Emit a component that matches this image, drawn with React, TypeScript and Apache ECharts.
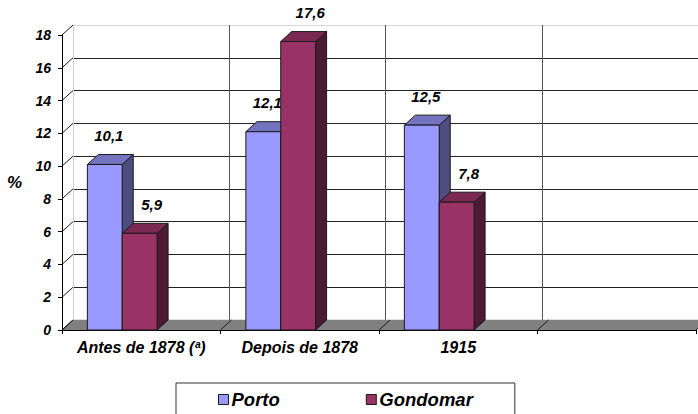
import React, { useEffect, useRef } from "react";
import * as echarts from "echarts";

const categories = ["Antes de 1878 (ª)", "Depois de 1878", "1915", ""];
const portoValues = [10.1, 12.1, 12.5];
const gondomarValues = [5.9, 17.6, 7.8];
const seriesNames = ["Porto", "Gondomar"];
const yTicks = [0, 2, 4, 6, 8, 10, 12, 14, 16, 18];

const FONT = "'Liberation Sans', Arial, sans-serif";
const DX = 11;
const DY = 10;

const palettes = [
  { front: "#9999ff", top: "#7373bf", side: "#4d4d80" },
  { front: "#993366", top: "#7a2952", side: "#4d1a33" },
];

function fmt(v: number) {
  return String(v).replace(".", ",");
}

function barRenderer(seriesIdx: number) {
  const pal = palettes[seriesIdx];
  const offFrac = seriesIdx === 0 ? -0.34 : -0.12;
  const labelDx = seriesIdx === 0 ? 4 : 12;
  return (params: any, api: any) => {
    const cat = api.value(0);
    const v = api.value(1);
    const base = api.coord([cat, 0]);
    const top = api.coord([cat, v]);
    const bw = api.size([1, 0])[0];
    const w = 0.22 * bw;
    const x0 = base[0] + offFrac * bw;
    const yT = top[1];
    const yB = base[1];
    const stroke = { stroke: "#1a1a1a", lineWidth: 1 };
    return {
      type: "group",
      children: [
        {
          type: "polygon",
          shape: {
            points: [
              [x0 + w, yT],
              [x0 + w + DX, yT - DY],
              [x0 + w + DX, yB - DY],
              [x0 + w, yB],
            ],
          },
          style: { fill: pal.side, ...stroke },
        },
        {
          type: "polygon",
          shape: {
            points: [
              [x0, yT],
              [x0 + DX, yT - DY],
              [x0 + w + DX, yT - DY],
              [x0 + w, yT],
            ],
          },
          style: { fill: pal.top, ...stroke },
        },
        {
          type: "rect",
          shape: { x: x0, y: yT, width: w, height: yB - yT },
          style: { fill: pal.front, ...stroke },
        },
        {
          type: "text",
          x: x0 + w / 2 + labelDx,
          y: yT - DY - 19,
          style: {
            text: fmt(v),
            fill: "#000",
            font: `italic bold 15px ${FONT}`,
            align: "center",
            verticalAlign: "middle",
          },
        },
      ],
    };
  };
}

function decorRenderer(params: any, api: any) {
  const cs = params.coordSys;
  const x = cs.x;
  const w = cs.width;
  const yb = cs.y + cs.height;
  const children: any[] = [
    {
      type: "polygon",
      shape: {
        points: [
          [x, yb],
          [x + DX, yb - DY],
          [x + w + DX, yb - DY],
          [x + w, yb],
        ],
      },
      style: { fill: "#808080", stroke: "#808080", lineWidth: 0.5 },
    },
  ];
  const n = categories.length;
  for (let i = 0; i <= n; i++) {
    const bx = x + (i * w) / n;
    children.push({
      type: "line",
      shape: { x1: bx, y1: yb, x2: bx + DX, y2: yb - DY },
      style: { stroke: "#1a1a1a", lineWidth: 1 },
    });
  }
  for (const t of yTicks) {
    const p = api.coord([0, t]);
    children.push({
      type: "line",
      shape: { x1: x, y1: p[1], x2: x + DX, y2: p[1] - DY },
      style: { stroke: "#1a1a1a", lineWidth: 1 },
    });
  }
  return { type: "group", children };
}

export default function App() {
  const ref = useRef<HTMLDivElement>(null);
  useEffect(() => {
    if (!ref.current) return;
    const chart = echarts.init(ref.current, undefined, { renderer: "svg" });
    const hColors = yTicks.map((t, i) => (i === yTicks.length - 1 ? "#d8d8d8" : "#222"));
    chart.setOption({
      animation: false,
      backgroundColor: "#fff",
      grid: [
        { left: 62, right: 2, top: 35, bottom: 84 },
        { left: 73, right: -9, top: 25, bottom: 94 },
      ],
      xAxis: [
        {
          type: "category",
          gridIndex: 0,
          data: categories,
          boundaryGap: true,
          z: 4,
          axisLine: { show: true, lineStyle: { color: "#000", width: 1 } },
          axisTick: { show: true, length: 4, alignWithLabel: false, lineStyle: { color: "#000" } },
          axisLabel: {
            color: "#000",
            fontFamily: FONT,
            fontSize: 16,
            fontWeight: "bold",
            fontStyle: "italic",
            margin: 9,
            interval: 0,
          },
          splitLine: { show: false },
        },
        {
          type: "category",
          gridIndex: 1,
          data: categories,
          boundaryGap: true,
          axisLine: { show: false },
          axisTick: { show: false },
          axisLabel: { show: false },
          splitLine: { show: true, lineStyle: { color: "#555", width: 1 } },
        },
      ],
      yAxis: [
        {
          type: "value",
          gridIndex: 0,
          min: 0,
          max: 18,
          interval: 2,
          z: 4,
          name: "%",
          nameLocation: "middle",
          nameRotate: 0,
          nameGap: 40,
          nameTextStyle: {
            color: "#000",
            fontFamily: FONT,
            fontSize: 17,
            fontWeight: "bold",
            fontStyle: "italic",
          },
          axisLine: { show: true, lineStyle: { color: "#000", width: 1 } },
          axisTick: { show: true, length: 4, lineStyle: { color: "#000" } },
          axisLabel: {
            color: "#000",
            fontFamily: FONT,
            fontSize: 14,
            fontWeight: "bold",
            fontStyle: "italic",
            margin: 11,
          },
          splitLine: { show: false },
        },
        {
          type: "value",
          gridIndex: 1,
          min: 0,
          max: 18,
          interval: 2,
          axisLine: { show: true, lineStyle: { color: "#d0d0d0", width: 1 } },
          axisTick: { show: false },
          axisLabel: { show: false },
          splitLine: { show: true, lineStyle: { color: hColors, width: 1 } },
        },
      ],
      legend: {
        left: 176,
        top: 383,
        width: 341,
        padding: [7, 42, 30, 42],
        itemGap: 86,
        itemWidth: 10,
        itemHeight: 10,
        borderColor: "#333",
        borderWidth: 1,
        icon: "rect",
        textStyle: {
          color: "#000",
          fontFamily: FONT,
          fontSize: 18.5,
          fontWeight: "bold",
          fontStyle: "italic",
          padding: [0, 0, 0, -2],
        },
        data: seriesNames.map((n, i) => ({
          name: n,
          itemStyle: { color: palettes[i].front, borderColor: "#1a1a1a", borderWidth: 1 },
        })),
      },
      series: [
        {
          type: "custom",
          name: "floor",
          xAxisIndex: 0,
          yAxisIndex: 0,
          z: 2,
          silent: true,
          data: [[0, 0]],
          renderItem: decorRenderer,
        },
        {
          type: "custom",
          name: seriesNames[0],
          xAxisIndex: 0,
          yAxisIndex: 0,
          z: 5,
          itemStyle: { color: palettes[0].front },
          data: portoValues.map((v, i) => [i, v]),
          renderItem: barRenderer(0),
        },
        {
          type: "custom",
          name: seriesNames[1],
          xAxisIndex: 0,
          yAxisIndex: 0,
          z: 5,
          itemStyle: { color: palettes[1].front },
          data: gondomarValues.map((v, i) => [i, v]),
          renderItem: barRenderer(1),
        },
      ],
    });
    return () => chart.dispose();
  }, []);
  return <div ref={ref} style={{ width: 698, height: 414, position: "absolute", left: 0, top: 0 }} />;
}
